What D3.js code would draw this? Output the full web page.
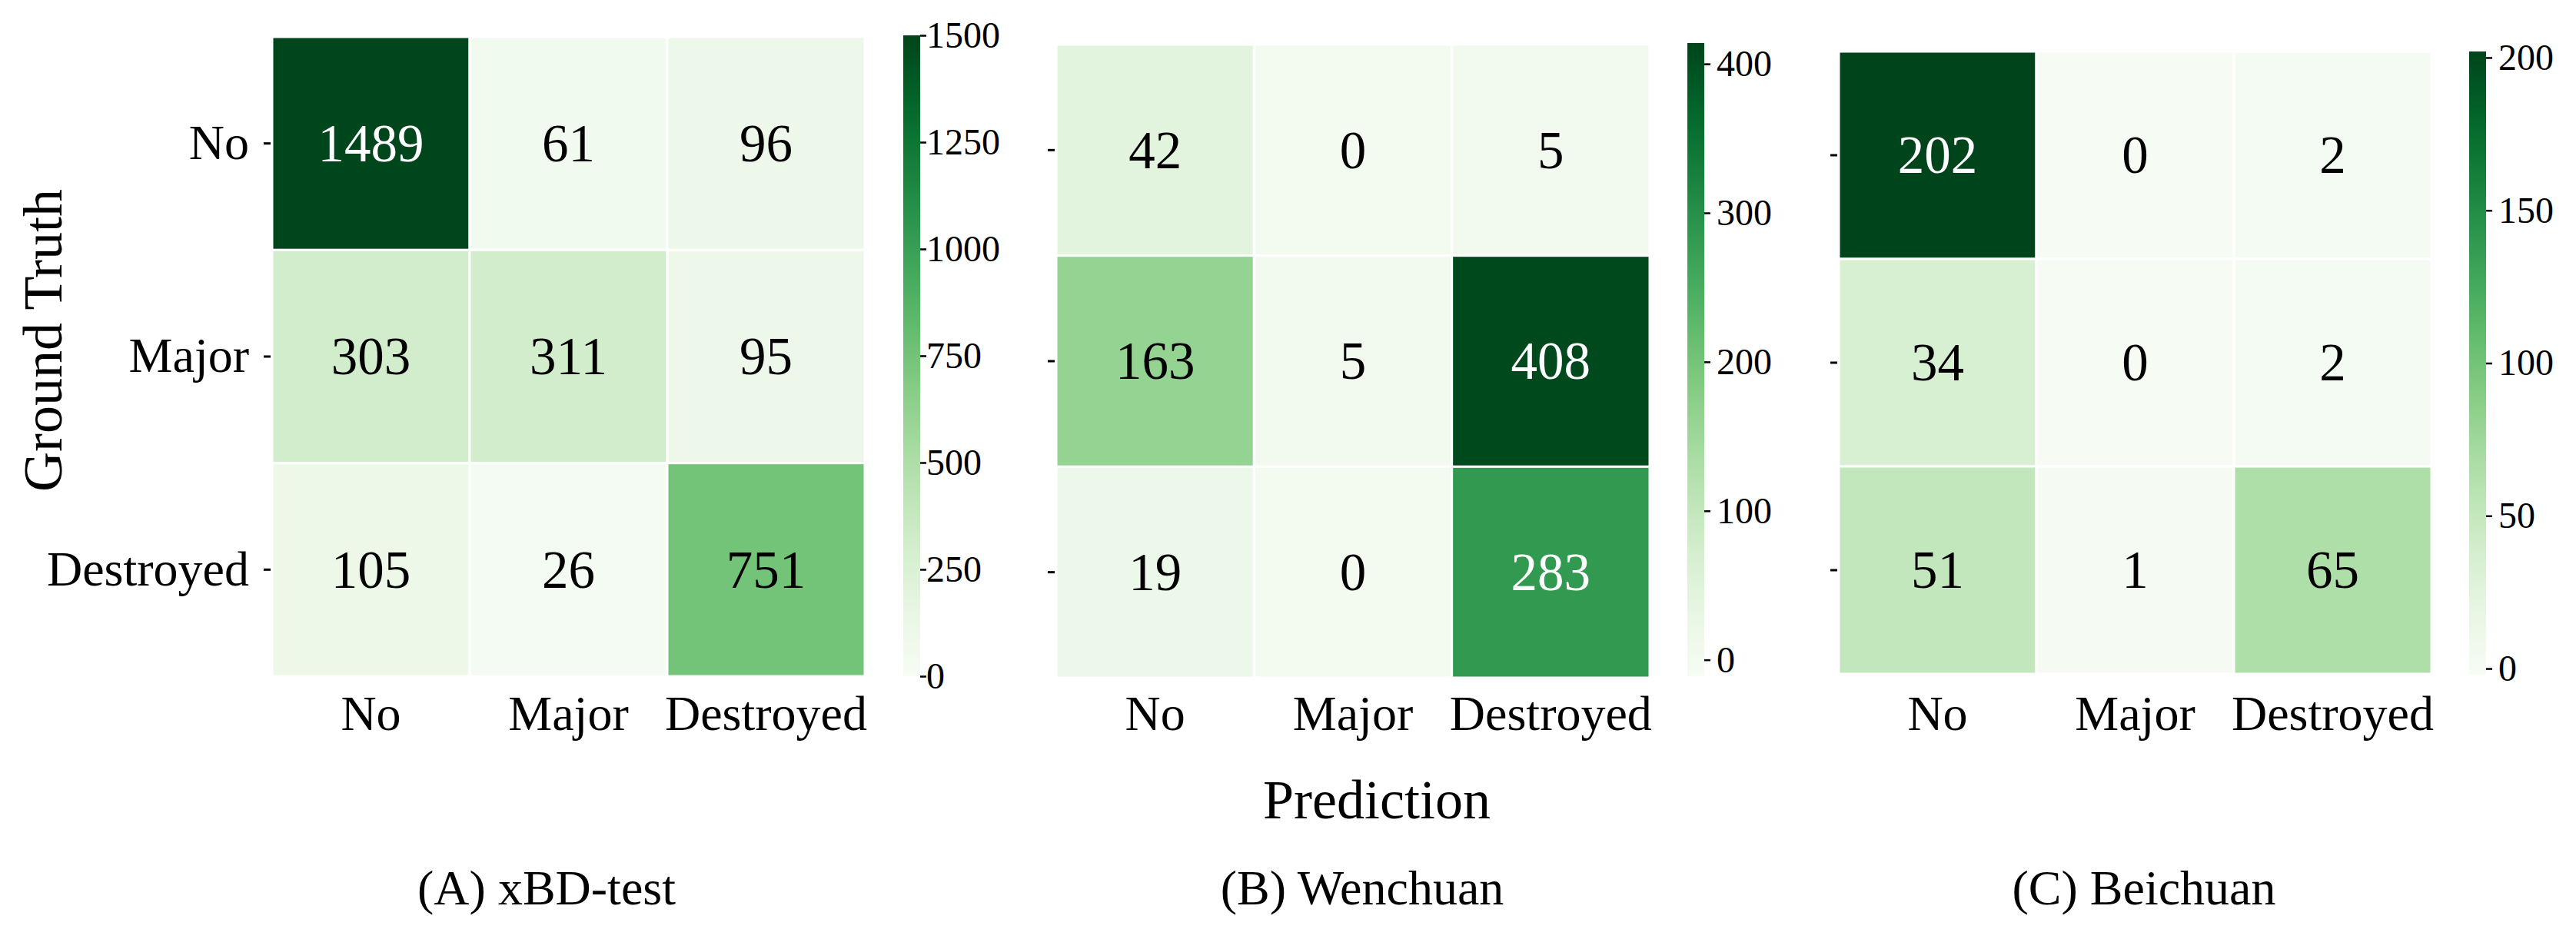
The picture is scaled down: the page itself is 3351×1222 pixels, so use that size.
<!DOCTYPE html>
<html>
<head>
<meta charset="utf-8">
<script src="https://cdn.jsdelivr.net/npm/d3@7"></script>
<style>
  body { margin: 0; background: #fff; }
  text { font-family: "Liberation Serif", "Times New Roman", serif; fill: #000; }
</style>
</head>
<body>
<div id="chart"></div>
<script>
var svgWidth = 3351;
var svgHeight = 1222;

// data
var classes = ["No", "Major", "Destroyed"];
var captions = ["(A) xBD-test", "(B) Wenchuan", "(C) Beichuan"];
var xbdMatrix = [[1489, 61, 96], [303, 311, 95], [105, 26, 751]];
var wenchuanMatrix = [[42, 0, 5], [163, 5, 408], [19, 0, 283]];
var beichuanMatrix = [[202, 0, 2], [34, 0, 2], [51, 1, 65]];
var xbdTicks = [0, 250, 500, 750, 1000, 1250, 1500];
var wenchuanTicks = [0, 100, 200, 300, 400];
var beichuanTicks = [0, 50, 100, 150, 200];
var xbdRange = [0, 1500];
var wenchuanRange = [-11, 414];
var beichuanRange = [-2, 202];

var matrices = [xbdMatrix, wenchuanMatrix, beichuanMatrix];
var cbarTicks = [xbdTicks, wenchuanTicks, beichuanTicks];
var cbarRanges = [xbdRange, wenchuanRange, beichuanRange];

// layout of each panel (heatmap box + colorbar box)
var layout = [
    {x0: 354, x1: 1125, y0: 48, y1: 880, cx: 1175, cy0: 46, cy1: 880, capX: 711},
    {x0: 1374, x1: 2146, y0: 58, y1: 882, cx: 2195, cy0: 56, cy1: 880, capX: 1772},
    {x0: 2392, x1: 3163, y0: 67, y1: 877, cx: 3212, cy0: 67, cy1: 878, capX: 2789}
];
var cbarWidth = 22;

var svg = d3.select("#chart")
    .append("svg")
    .attr("width", svgWidth)
    .attr("height", svgHeight);

svg.append("rect")
    .attr("width", svgWidth)
    .attr("height", svgHeight)
    .attr("fill", "#fff");

var defs = svg.append("defs");

// seaborn style: white text on dark cells
function textColor(c) {
    var rgb = d3.rgb(c);
    var lin = [rgb.r, rgb.g, rgb.b].map(function(v) {
        v = v / 255;
        return v <= 0.03928 ? v / 12.92 : Math.pow((v + 0.055) / 1.055, 2.4);
    });
    var lum = 0.2126 * lin[0] + 0.7152 * lin[1] + 0.0722 * lin[2];
    return lum > 0.408 ? "#000" : "#fff";
}

layout.forEach(function(p, i) {
    var data = matrices[i];
    var cells = [];
    data.forEach(function(row, r) {
        row.forEach(function(v, c) {
            cells.push({row: classes[r], col: classes[c], value: v});
        });
    });

    var xScale = d3.scaleBand().domain(classes).range([p.x0, p.x1]);
    var yScale = d3.scaleBand().domain(classes).range([p.y0, p.y1]);
    var colorNorm = d3.scaleLinear().domain(cbarRanges[i]).range([0, 1]).clamp(true);
    var color = function(v) { return d3.interpolateGreens(colorNorm(v)); };

    var g = svg.append("g");

    //cells
    g.selectAll("rect.cell")
        .data(cells)
        .enter()
        .append("rect")
        .attr("class", "cell")
        .attr("x", d => xScale(d.col))
        .attr("y", d => yScale(d.row))
        .attr("width", xScale.bandwidth())
        .attr("height", yScale.bandwidth())
        .attr("fill", d => color(d.value))
        .attr("stroke", "#fff")
        .attr("stroke-width", 3);

    //annotations
    g.selectAll("text.annot")
        .data(cells)
        .enter()
        .append("text")
        .attr("class", "annot")
        .attr("x", d => xScale(d.col) + xScale.bandwidth() / 2)
        .attr("y", d => yScale(d.row) + yScale.bandwidth() / 2)
        .attr("dy", "0.34em")
        .attr("text-anchor", "middle")
        .attr("font-size", "69px")
        .style("fill", d => textColor(color(d.value)))
        .text(d => d.value);

    //y axis (labels only on first panel)
    var leftAxis = d3.axisLeft(yScale).tickSize(9).tickPadding(19);
    if (i > 0) leftAxis.tickFormat("");
    var yAxis = g.append("g")
        .attr("transform", `translate(${p.x0 - 2},0)`)
        .call(leftAxis);
    yAxis.select(".domain").remove();
    yAxis.selectAll("line").attr("stroke", "#000").attr("stroke-width", 3);
    yAxis.selectAll("text").attr("font-size", "64px").attr("font-family", null);

    //x axis
    var bottomAxis = d3.axisBottom(xScale).tickSize(0);
    var xAxis = g.append("g")
        .attr("transform", `translate(0,${p.y1})`)
        .call(bottomAxis);
    xAxis.select(".domain").remove();
    xAxis.selectAll("text")
        .attr("y", 950 - p.y1)
        .attr("dy", 0)
        .attr("font-size", "64px")
        .attr("font-family", null);

    //colorbar
    var gradId = "grad" + i;
    var grad = defs.append("linearGradient")
        .attr("id", gradId)
        .attr("x1", 0).attr("y1", 1).attr("x2", 0).attr("y2", 0);
    d3.range(0, 1.0001, 0.05).forEach(function(t) {
        grad.append("stop")
            .attr("offset", t)
            .attr("stop-color", d3.interpolateGreens(t));
    });
    g.append("rect")
        .attr("x", p.cx)
        .attr("y", p.cy0)
        .attr("width", cbarWidth)
        .attr("height", p.cy1 - p.cy0)
        .attr("fill", `url(#${gradId})`);

    var cScale = d3.scaleLinear().domain(cbarRanges[i]).range([p.cy1, p.cy0]);
    var cAxis = g.append("g")
        .attr("transform", `translate(${p.cx + cbarWidth},0)`)
        .call(d3.axisRight(cScale)
            .tickValues(cbarTicks[i])
            .tickFormat(d3.format("d"))
            .tickSize(8)
            .tickPadding(i == 0 ? 0 : 8));
    cAxis.select(".domain").remove();
    cAxis.selectAll("line").attr("stroke", "#000").attr("stroke-width", 2.5);
    cAxis.selectAll("text").attr("font-size", "48px").attr("font-family", null);

    //caption
    svg.append("text")
        .attr("x", p.capX)
        .attr("y", 1177)
        .attr("text-anchor", "middle")
        .attr("font-size", "64px")
        .text(captions[i]);
});

// shared axis titles
svg.append("text")
    .attr("x", 1791)
    .attr("y", 1065)
    .attr("text-anchor", "middle")
    .attr("font-size", "72px")
    .text("Prediction");

svg.append("text")
    .attr("transform", "translate(80,443) rotate(-90)")
    .attr("text-anchor", "middle")
    .attr("font-size", "72px")
    .text("Ground Truth");
</script>
</body>
</html>
